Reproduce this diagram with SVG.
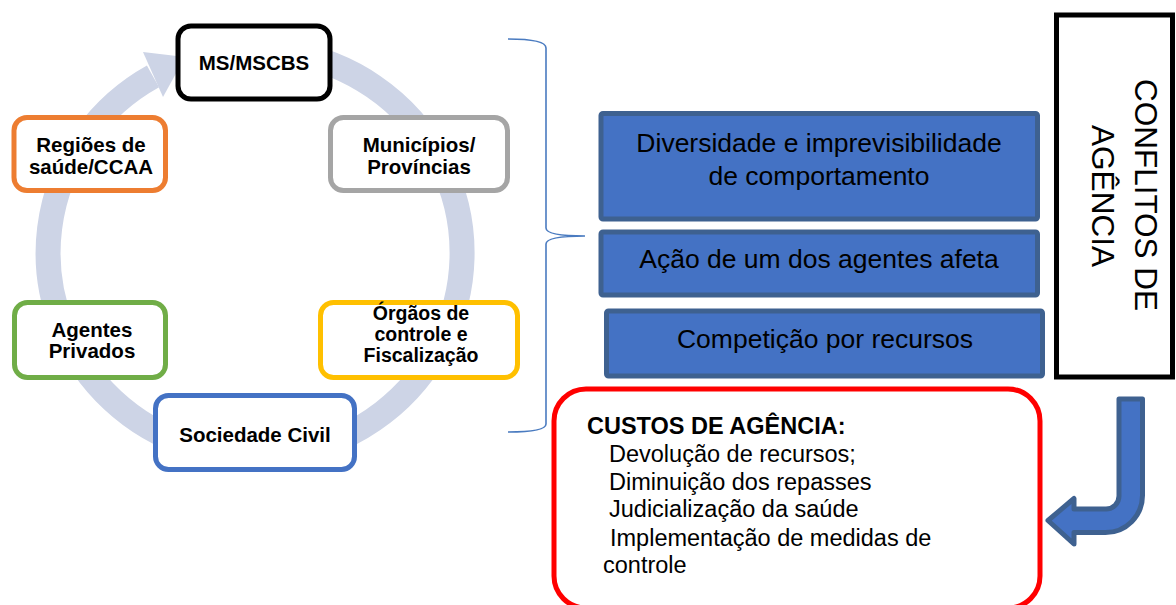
<svg xmlns="http://www.w3.org/2000/svg" width="1176" height="605" viewBox="0 0 1176 605">
<style>
.node{fill:#fff;stroke-width:5}
.lbl{font-family:"Liberation Sans",Arial,sans-serif;font-weight:bold;font-size:20.5px;fill:#000;text-anchor:middle}
.sm{font-size:19.5px}
.blue{fill:#4472C4;stroke:#3E6190;stroke-width:5}
.btxt{font-family:"Liberation Sans",Arial,sans-serif;font-size:26.5px;fill:#000;text-anchor:middle}
.ctxt{font-family:"Liberation Sans",Arial,sans-serif;font-size:23.5px;fill:#000}
.vtxt{font-family:"Liberation Sans",Arial,sans-serif;font-size:31.5px;fill:#000;text-anchor:middle}
</style>
<rect width="1176" height="605" fill="#fff"/>
<g id="connectors">
  <path d="M 290 52.9 A 207 203 0 1 1 153 76.4" fill="none" stroke="#CDD4E6" stroke-width="25"/>
  <polygon points="143,52 185,57 163,97" fill="#CDD4E6"/>
  <path d="M 508 39 Q 546 39 546 48 L 546 228 Q 546 236 585 236 Q 546 236 546 244 L 546 424 Q 546 432 508 432" fill="none" stroke="#4A7BC0" stroke-width="1.6"/>
  <path d="M 1119 399 L 1142.5 399 L 1142.5 495.5 A 37 37 0 0 1 1105.5 532.5 L 1074 532.5 L 1074 544 L 1048 520.5 L 1074 498.5 L 1074 509 L 1106 509 A 13 13 0 0 0 1119 496 Z" fill="#4472C4" stroke="#3E6190" stroke-width="5" stroke-linejoin="round"/>
</g>
<g id="node-ms">
  <rect class="node" x="178" y="26" width="152" height="73" rx="13" stroke="#000" stroke-width="6"/>
  <text class="lbl" x="254" y="70">MS/MSCBS</text>
</g>
<g id="node-regioes">
  <rect class="node" x="14" y="117.5" width="151.5" height="73" rx="13" stroke="#ED7D31"/>
  <text class="lbl" x="91" y="151.5">Regiões de</text>
  <text class="lbl" x="91" y="174">saúde/CCAA</text>
</g>
<g id="node-municipios">
  <rect class="node" x="330.5" y="117.5" width="177" height="73" rx="13" stroke="#A5A5A5"/>
  <text class="lbl" x="419" y="151.5">Municípios/</text>
  <text class="lbl" x="419" y="174">Províncias</text>
</g>
<g id="node-agentes">
  <rect class="node" x="14.5" y="302.5" width="151" height="75" rx="13" stroke="#70AD47"/>
  <text class="lbl" x="92" y="337">Agentes</text>
  <text class="lbl" x="92" y="358">Privados</text>
</g>
<g id="node-orgaos">
  <rect class="node" x="320.5" y="302.5" width="197" height="75" rx="13" stroke="#FFC000"/>
  <text class="lbl sm" x="421" y="319.5">Órgãos de</text>
  <text class="lbl sm" x="421" y="340.5">controle e</text>
  <text class="lbl sm" x="421" y="361.5">Fiscalização</text>
</g>
<g id="node-sociedade">
  <rect class="node" x="155.5" y="395.5" width="199" height="74" rx="13" stroke="#4472C4"/>
  <text class="lbl" x="255" y="442">Sociedade Civil</text>
</g>
<g id="node-diversidade">
  <rect class="blue" x="601" y="113.5" width="436.5" height="105.5" rx="2"/>
  <text class="btxt" x="819" y="151.7">Diversidade e imprevisibilidade</text>
  <text class="btxt" x="819" y="185">de comportamento</text>
</g>
<g id="node-acao">
  <rect class="blue" x="601" y="232" width="436.5" height="63" rx="2"/>
  <text class="btxt" x="819" y="268">Ação de um dos agentes afeta</text>
</g>
<g id="node-competicao">
  <rect class="blue" x="606.5" y="311" width="436" height="65" rx="2"/>
  <text class="btxt" x="825" y="348">Competição por recursos</text>
</g>
<g id="node-conflitos">
  <rect x="1056.5" y="15" width="116" height="362" fill="#fff" stroke="#000" stroke-width="5"/>
  <text class="vtxt" transform="translate(1135,195) rotate(90)">CONFLITOS DE</text>
  <text class="vtxt" transform="translate(1092,196) rotate(90)">AGÊNCIA</text>
</g>
<g id="node-custos">
  <rect x="554" y="389" width="486" height="219" rx="32" fill="#fff" stroke="#FF0000" stroke-width="5"/>
  <text class="ctxt" x="587" y="434" font-weight="bold">CUSTOS DE AGÊNCIA:</text>
  <text class="ctxt" x="609" y="461.7">Devolução de recursos;</text>
  <text class="ctxt" x="609" y="490">Diminuição dos repasses</text>
  <text class="ctxt" x="609" y="517.3">Judicialização da saúde</text>
  <text class="ctxt" x="610" y="545.7">Implementação de medidas de</text>
  <text class="ctxt" x="603" y="572.7">controle</text>
</g>
</svg>
